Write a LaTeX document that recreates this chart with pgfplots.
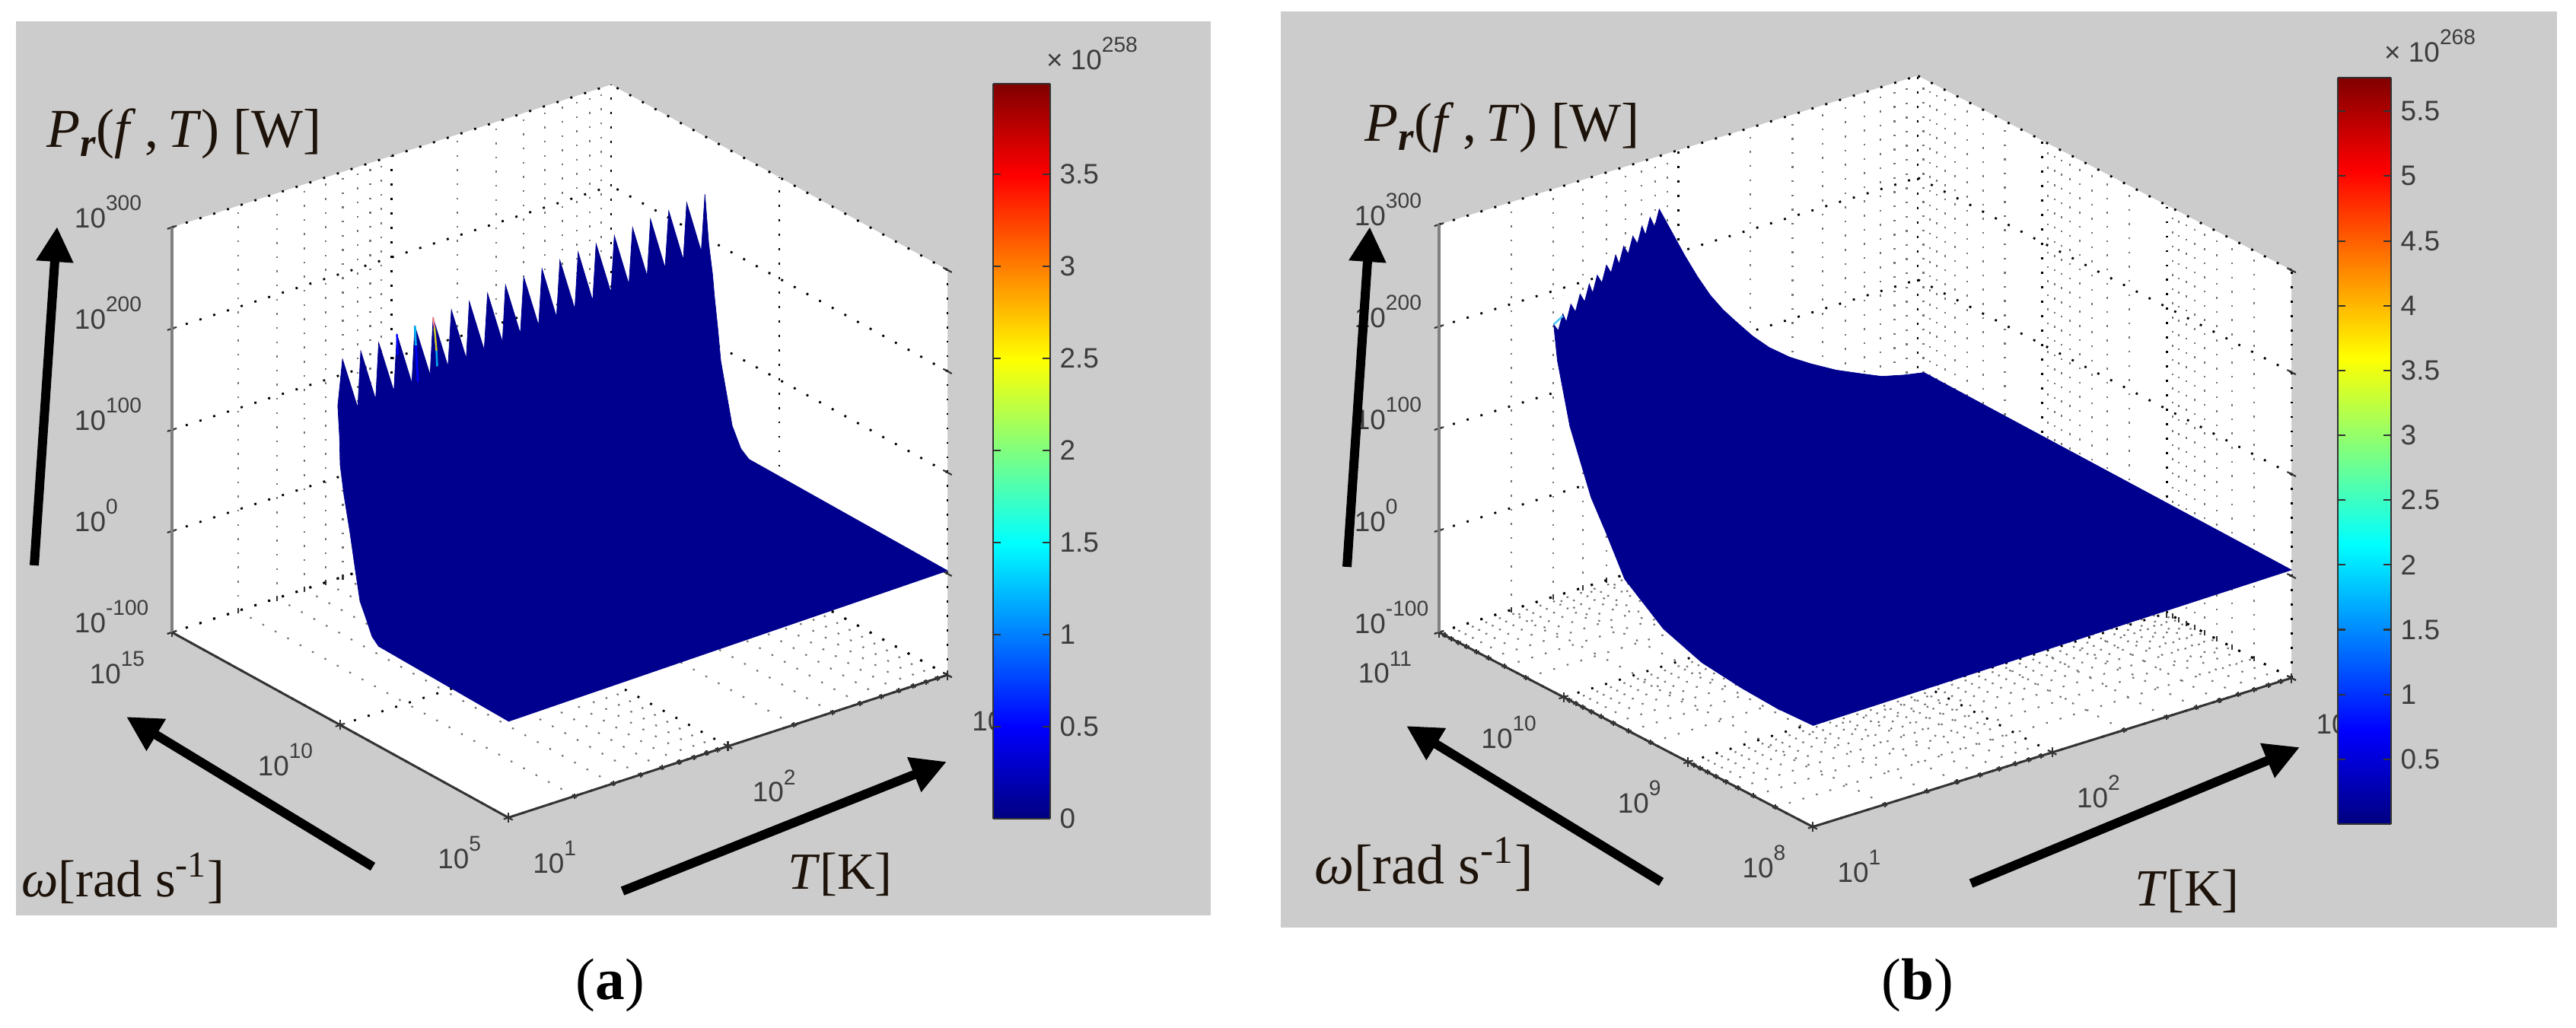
\documentclass[border=0pt]{standalone}
\usepackage{fontspec}
\usepackage{pgfplots}
\pgfplotsset{compat=1.18}
\usetikzlibrary{arrows.meta}
\setmainfont{Liberation Sans}
\newfontfamily\capfont{Liberation Serif}
\definecolor{panel}{HTML}{CCCCCC}
\definecolor{jetlow}{RGB}{0,0,143}
\definecolor{tk}{HTML}{3C3C3C}
\newcommand{\ee}[1]{10\raisebox{.62em}{\fontsize{8}{8}\selectfont #1}}
\newcommand{\logminors}{1.301,1.477,1.602,1.699,1.778,1.845,1.903,1.954,2.301,2.477,2.602,2.699,2.778,2.845,2.903,2.954}
\pgfplotsset{
  box3d/.style={
    xmin=1,xmax=3,zmin=-100,zmax=300,
    xtick={1,2,3},xticklabels={\ee{1},\ee{2},\ee{3}},
    ztick={-100,0,100,200,300},zticklabels={\ee{-100},\ee{0},\ee{100},\ee{200},\ee{300}},
    minor xtick=\logminors,
    grid=both,
    major grid style={black,line width=.8pt,dash pattern=on .8pt off 4.6pt},
    minor grid style={black!55,line width=.6pt,dash pattern=on .7pt off 4.6pt},
    axis background/.style={fill=white},
    axis line style={draw=none},
    xtick pos=left,ytick pos=left,ztick pos=left,
    tick align=center,
    tick style={black!80,line width=.6pt},
    major tick length=.13cm,minor tick length=.07cm,
    ticklabel style={font=\fontsize{10.5}{12}\selectfont,text=tk,inner sep=0pt},
    xticklabel style={anchor=base west,xshift=.26cm,yshift=-.70cm},
    yticklabel style={anchor=base east,xshift=-.29cm,yshift=-.65cm},
    clip=false,
  },
  edge/.style={black!80,line width=.85pt,no marks},
  vedge/.style={black!50,line width=1pt,no marks},
  cbar/.style={
    scale only axis,enlargelimits=false,xmin=0,xmax=1,ymin=0,
    xtick=\empty,yticklabel pos=right,ytick pos=both,tick align=inside,
    colormap/jet,view={0}{90},
    /pgf/number format/assume math mode=true,
    tick style={black!80,line width=.6pt},major tick length=.1cm,
    axis line style={black!80,line width=.6pt},
    ticklabel style={font=\fontsize{10.5}{12}\selectfont,text=tk},
    yticklabel style={inner sep=0pt,xshift=.12cm},
  },
}
\begin{document}
\begin{tikzpicture}
\useasboundingbox (0,0) rectangle (33.85,13.5);
\fill[panel] (.21,1.47) rectangle (15.91,13.22);
\fill[panel] (16.83,1.31) rectangle (33.60,13.35);

% panel a
\begin{axis}[box3d,
  at={(2.26cm,2.755cm)},anchor=south west,
  x={(2.885cm,.9375cm)},y={(-.442cm,.2435cm)},z={(0cm,.0133cm)},
  ymin=5,ymax=15,ytick={5,10,15},yticklabels={\ee{5},\ee{10},\ee{15}},
  zticklabel style={anchor=base west,xshift=-1.23cm,yshift=-.04cm}]
\addplot3[vedge] coordinates {(1,15,-100) (1,15,300)};
\addplot3[edge] coordinates {(1,15,-100) (1,5,-100) (3,5,-100)};
\addplot3[fill=jetlow,draw=jetlow,no marks,line width=.2pt] coordinates {
 (1,5,-5) (3,5,3) (3,10.9,5) (3,11.14,11) (3,11.4,29) (3,11.57,58) (3,11.74,87) (3,11.83,118) (3,11.93,148)
 (3,11.98,167) (3,12.1,197) (3,12.21,243)
 (3.0,12.32,184.4) (2.9,12.10,243.7) (2.9,12.20,185.5) (2.8,11.98,244.7) (2.8,12.09,186.5) (2.7,11.87,245.7)
 (2.7,11.97,187.5) (2.6,11.75,246.7) (2.6,11.86,188.6) (2.5,11.64,247.7) (2.5,11.74,189.6) (2.4,11.53,248.7)
 (2.4,11.63,190.6) (2.3,11.41,249.7) (2.3,11.51,191.6) (2.2,11.30,250.7) (2.2,11.40,192.7) (2.1,11.18,251.7)
 (2.1,11.28,193.7) (2.0,11.07,252.7) (2.0,11.17,194.7) (1.9,10.96,253.7) (1.9,11.05,195.8) (1.8,10.84,254.7)
 (1.8,10.94,196.8) (1.7,10.73,255.7) (1.7,10.82,197.8) (1.6,10.61,256.7) (1.6,10.71,198.9) (1.5,10.50,257.7)
 (1.5,10.59,199.9) (1.4,10.39,258.7) (1.4,10.48,200.9) (1.3,10.27,259.7) (1.3,10.36,201.9) (1.2,10.16,260.7)
 (1.2,10.25,203.0) (1.1,10.04,261.7) (1.1,10.13,204) (1,9.93,262.7)
 (1,10.07,214) (1,10.02,185) (1,10,157) (1,9.887,129) (1,9.706,95) (1,9.548,61) (1,9.41,33) (1,9.253,21) (1,9.05,4.6) (1,8.846,-1.7)
};
\addplot3[red!50!white,line width=.6pt,no marks] coordinates {(1.5,10.50,258) (1.5,10.46,249)};
\addplot3[yellow!80!black,line width=.7pt,no marks] coordinates {(1.5,10.46,249) (1.5,10.40,227)};
\addplot3[cyan,line width=.7pt,no marks] coordinates {(1.5,10.40,227) (1.5,10.38,212)};
\addplot3[cyan,line width=.8pt,no marks] coordinates {(1.4,10.39,258.7) (1.4,10.36,240)};
\addplot3[blue,line width=.7pt,no marks] coordinates {(1.4,10.36,240) (1.4,10.30,205)};
\addplot3[blue,line width=.7pt,no marks] coordinates {(1.3,10.27,259.7) (1.3,10.25,240)};
\end{axis}

% panel b
\begin{axis}[box3d,
  at={(18.91cm,2.634cm)},anchor=south west,
  x={(3.145cm,.978cm)},y={(-1.637cm,.852cm)},z={(0cm,.0134cm)},
  ymin=8,ymax=11,ytick={8,9,10,11},yticklabels={\ee{8},\ee{9},\ee{10},\ee{11}},
  minor ytick={8.301,8.477,8.602,8.699,8.778,8.845,8.903,8.954,9.301,9.477,9.602,9.699,9.778,9.845,9.903,9.954,10.301,10.477,10.602,10.699,10.778,10.845,10.903,10.954},
  zticklabel style={anchor=base west,xshift=-1.06cm,yshift=-.04cm}]
\addplot3[vedge] coordinates {(1,11,-100) (1,11,300)};
\addplot3[edge] coordinates {(1,11,-100) (1,8,-100) (3,8,-100)};
\addplot3[fill=jetlow,draw=jetlow,no marks,line width=.2pt] coordinates {
 (1,8,-0.7) (3,8,6) (3,10.95,12) (2.942,11,10.6) (2.85,11,16) (2.766,11,24.7) (2.66,11,36) (2.555,11,49.8) (2.465,11,63) (2.379,11,78.8)
 (2.31,11,95) (2.239,11,114.7) (2.186,11,130) (2.133,11,148) (2.08,11,170) (2.027,11,194.5) (1.92,11,248)
 (1.88,10.96,236) (1.84,10.92,251) (1.80,10.88,239) (1.77,10.85,252) (1.73,10.81,240) (1.69,10.77,253)
 (1.65,10.73,241) (1.61,10.69,254) (1.57,10.65,242) (1.54,10.62,255) (1.50,10.58,243) (1.46,10.54,256)
 (1.42,10.50,244) (1.38,10.46,257) (1.34,10.42,245) (1.31,10.39,258) (1.27,10.35,246) (1.23,10.31,259)
 (1.19,10.27,247) (1.15,10.23,260) (1.11,10.19,248) (1.08,10.16,260) (1.04,10.12,249) (1,10.08,260.5)
 (1,10.05,227) (1,9.95,169) (1,9.78,110) (1,9.66,83) (1,9.51,47) (1,9.2,18) (1,8.89,4.5) (1,8.57,-.2) (1,8.26,-2.2)
};
\addplot3[cyan!70!white,line width=.7pt,no marks] coordinates {(1.0,10.08,260.5) (1.08,10.16,258)};
\end{axis}

% colorbar a
\begin{axis}[cbar,at={(13.05cm,2.74cm)},anchor=south west,width=.75cm,height=9.66cm,
  ymax=3.99,ytick={0,.5,1,1.5,2,2.5,3,3.5},yticklabels={0,0.5,1,1.5,2,2.5,3,3.5}]
\addplot3[surf,shader=interp,point meta=y,point meta min=0,point meta max=3.99,mesh/rows=2] coordinates {
 (0,0,0) (1,0,0)

 (0,3.99,0) (1,3.99,0)
};
\end{axis}
% colorbar b
\begin{axis}[cbar,at={(30.72cm,2.67cm)},anchor=south west,width=.70cm,height=9.81cm,
  ymax=5.76,ytick={.5,1,1.5,2,2.5,3,3.5,4,4.5,5,5.5},yticklabels={0.5,1,1.5,2,2.5,3,3.5,4,4.5,5,5.5}]
\addplot3[surf,shader=interp,point meta=y,point meta min=0,point meta max=5.76,mesh/rows=2] coordinates {
 (0,0,0) (1,0,0)

 (0,5.76,0) (1,5.76,0)
};
\end{axis}

% arrows
\tikzset{bigarrow/.style={-{Triangle[length=.46cm,width=.46cm]},line width=.12cm,black}}
\draw[bigarrow] (.45,6.07) -- (.75,10.52);
\draw[bigarrow] (4.90,2.11) -- (1.66,4.08);
\draw[bigarrow] (8.18,1.79) -- (12.44,3.49);
\draw[bigarrow] (17.70,6.05) -- (18.00,10.52);
\draw[bigarrow] (21.83,1.91) -- (18.48,3.96);
\draw[bigarrow] (25.90,1.89) -- (30.22,3.68);

% labels
\tikzset{lab/.style={font=\capfont\fontsize{19.5}{22}\selectfont,text=black!85!brown,inner sep=0pt},
  labb/.style={font=\capfont\fontsize{21}{22}\selectfont,text=black!85!brown,inner sep=0pt},
  plab/.style={font=\capfont\fontsize{20.5}{22}\selectfont,text=black!85!brown,inner sep=0pt},
  capt/.style={font=\capfont\fontsize{22}{24}\selectfont,text=black,inner sep=0pt},
  expo/.style={font=\fontsize{10.5}{12}\selectfont,text=tk,inner sep=0pt}}
\newcommand{\prft}{\textit{P}\raisebox{-.35ex}{\fontsize{15}{15}\selectfont\textit{\textbf{r}}}(\textit{f}\,,\,\textit{T}) [W]}
\node[plab] at (2.42,11.74) {\prft};
\node[lab] at (1.62,1.96) {\textit{ω}[rad s\textsuperscript{-1}]};
\node[lab] at (11.04,2.01) {\textit{T}[K]};
\node[plab] at (19.74,11.82) {\prft};
\node[labb] at (18.71,2.14) {\textit{ω}[rad s\textsuperscript{-1}]};
\node[lab] at (28.74,1.79) {\textit{T}[K]};
\node[capt] at (8.02,.55) {(\textbf{a})};
\node[capt] at (25.20,.55) {(\textbf{b})};
\node[expo] at (14.35,12.80) {× \ee{258}};
\node[expo] at (31.93,12.90) {× \ee{268}};
\end{tikzpicture}
\end{document}
